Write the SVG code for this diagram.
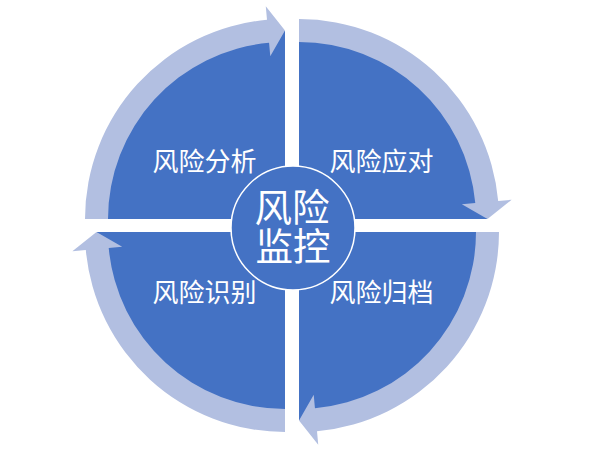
<svg xmlns="http://www.w3.org/2000/svg" width="589" height="457" viewBox="0 0 589 457">
  <defs>
    <style>
      .pie { fill: #4472C4; }
      .arc { fill: #B2BFE1; }
      .lbl { font-family: "Noto Sans CJK SC", "Noto Sans", sans-serif; fill: #FFFFFF; text-anchor: middle; font-size: 26px; }
      .ctr { font-family: "Noto Sans CJK SC", "Noto Sans", sans-serif; fill: #FFFFFF; text-anchor: middle; font-size: 37.5px; }
    </style>
    <path id="pieShape" d="M0,0 L-188,0 A188,188 0 0 1 0,-188 Z"/>
    <path id="arcShape" d="M-200,0 A200,200 0 0 1 -18.01,-199.19 L-19.23,-212.63 L0,-188.5 L-14.72,-162.84 L-15.94,-176.28 A177,177 0 0 0 -177,0 Z"/>
  </defs>
  <rect width="589" height="457" fill="#FFFFFF"/>

  <g id="q-analysis">
    <use href="#pieShape" class="pie" transform="translate(285,219)"/>
    <text class="lbl" x="204.5" y="171">风险分析</text>
  </g>
  <g id="q-response">
    <use href="#pieShape" class="pie" transform="translate(299,219) rotate(90)"/>
    <text class="lbl" x="381.5" y="171">风险应对</text>
  </g>
  <g id="q-archive">
    <use href="#pieShape" class="pie" transform="translate(299,232) rotate(180)"/>
    <text class="lbl" x="381.5" y="302">风险归档</text>
  </g>
  <g id="q-identify">
    <use href="#pieShape" class="pie" transform="translate(285,232) rotate(270)"/>
    <text class="lbl" x="204.5" y="302">风险识别</text>
  </g>

  <g id="connectors">
    <use href="#arcShape" class="arc" transform="translate(285,219)"/>
    <use href="#arcShape" class="arc" transform="translate(299,219) rotate(90)"/>
    <use href="#arcShape" class="arc" transform="translate(299,232) rotate(180)"/>
    <use href="#arcShape" class="arc" transform="translate(285,232) rotate(270)"/>
  </g>

  <g id="center">
    <circle cx="293" cy="228" r="62" fill="#4472C4" stroke="#FFFFFF" stroke-width="1.5"/>
    <text class="ctr"><tspan x="292" y="220.5">风险</tspan><tspan x="293" y="259.5">监控</tspan></text>
  </g>
</svg>
